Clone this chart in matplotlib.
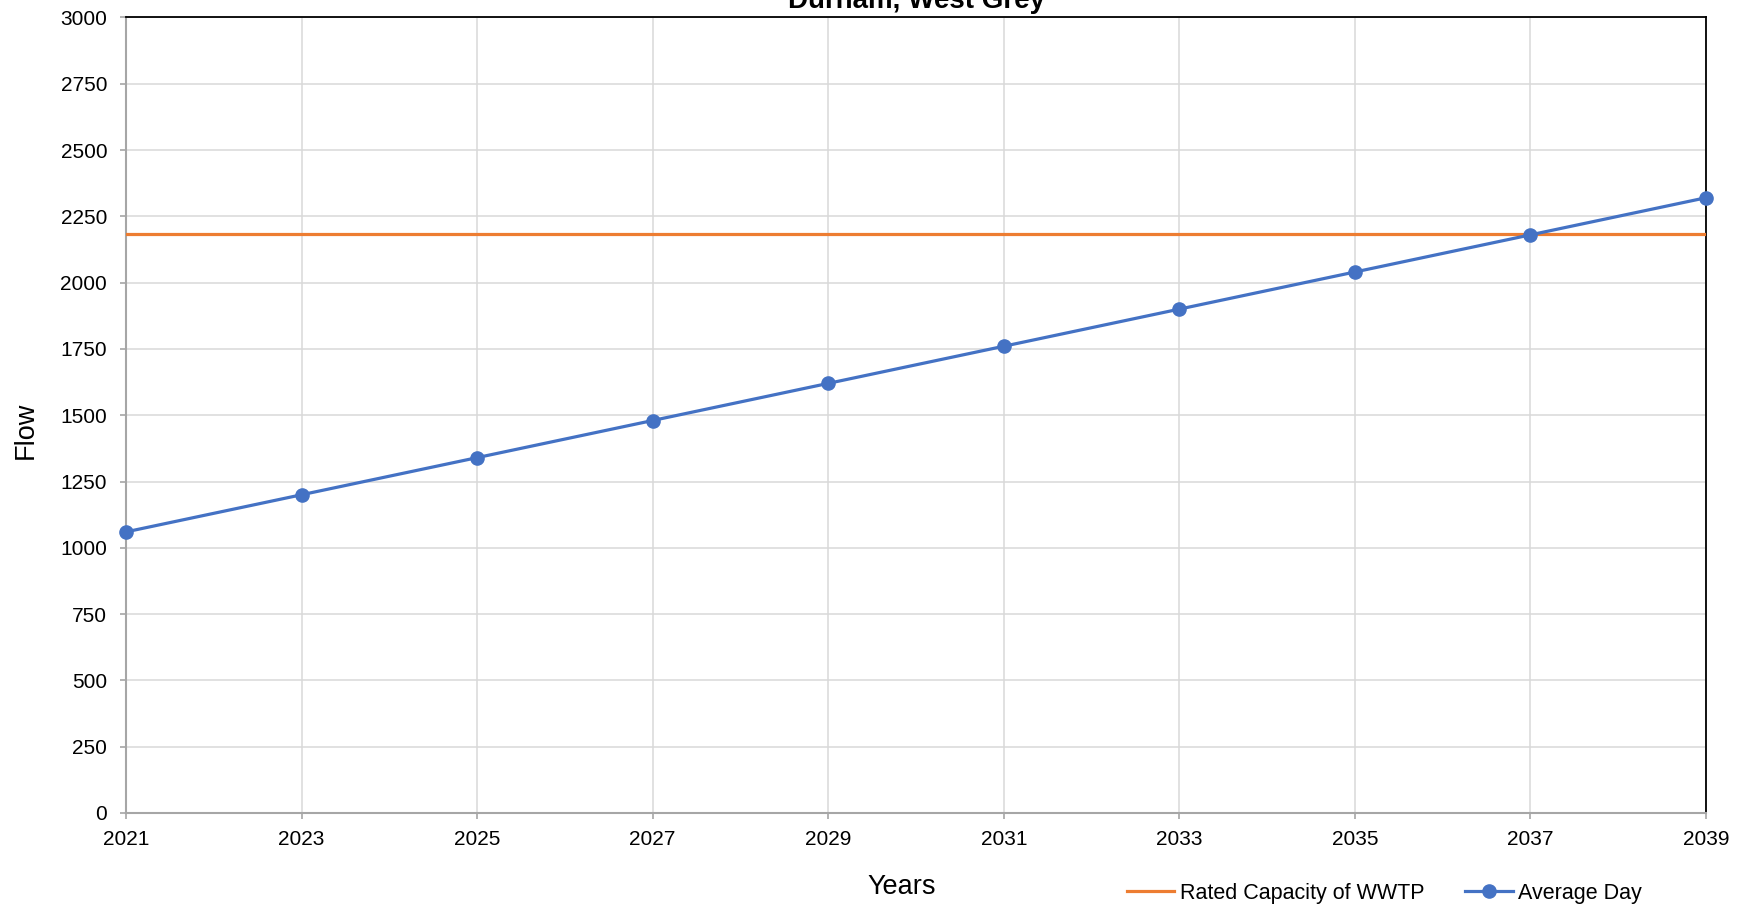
import matplotlib

matplotlib.use("Agg")
import matplotlib.pyplot as plt

plt.rcParams["font.family"] = ["Liberation Sans", "DejaVu Sans"]

# data
years = [2021, 2023, 2025, 2027, 2029, 2031, 2033, 2035, 2037, 2039]
average_day = [1060, 1200, 1340, 1480, 1620, 1760, 1900, 2040, 2180, 2320]
rated_capacity = 2182
y_ticks = [0, 250, 500, 750, 1000, 1250, 1500, 1750, 2000, 2250, 2500, 2750, 3000]

W, H = 1750, 909
fig = plt.figure(figsize=(W / 100, H / 100), dpi=100)
ax = fig.add_axes([126 / W, 1 - 813 / H, (1706 - 126) / W, (813 - 17.4) / H])

ax.plot(
    [years[0], years[-1]],
    [rated_capacity, rated_capacity],
    color="#ED7D31",
    lw=2.3,
    label="Rated Capacity of WWTP",
    zorder=3,
)
ax.plot(
    years,
    average_day,
    color="#4472C4",
    lw=2.3,
    marker="o",
    markersize=9.5,
    label="Average Day",
    zorder=4,
    clip_on=False,
)

ax.set_xlim(years[0], years[-1])
ax.set_ylim(y_ticks[0], y_ticks[-1])
ax.set_xticks(years)
ax.set_yticks(y_ticks)
ax.grid(True, color="#d9d9d9", lw=1.1)
ax.set_axisbelow(True)

for side in ["left", "bottom"]:
    ax.spines[side].set_color("#a6a6a6")
    ax.spines[side].set_linewidth(1.5)
for side in ["top", "right"]:
    ax.spines[side].set_color("black")
    ax.spines[side].set_linewidth(1.3)

ax.tick_params(axis="both", colors="#a6a6a6", labelcolor="black", labelsize=15, length=4.5, width=1.2)
ax.tick_params(axis="y", pad=9)
ax.tick_params(axis="x", pad=7.5)

# title sits partly above the canvas, as in the source image
fig.text(916 / W, 1 - 8.3 / H, "Durham, West Grey", ha="center", va="baseline", fontsize=20, fontweight="bold")
fig.text(25.5 / W, 1 - 430 / H, "Flow", ha="center", va="center", rotation=90, fontsize=19.5)
fig.text(902 / W, 1 - 894 / H, "Years", ha="center", va="baseline", fontsize=19.5)

fig.legend(
    loc="center left",
    bbox_to_anchor=(1127 / W, 1 - 893 / H),
    ncol=2,
    frameon=False,
    fontsize=15.5,
    borderpad=0,
    borderaxespad=0,
    handlelength=2.2,
    handletextpad=0.25,
    columnspacing=1.9,
)

fig.savefig("out.png", dpi=100)
